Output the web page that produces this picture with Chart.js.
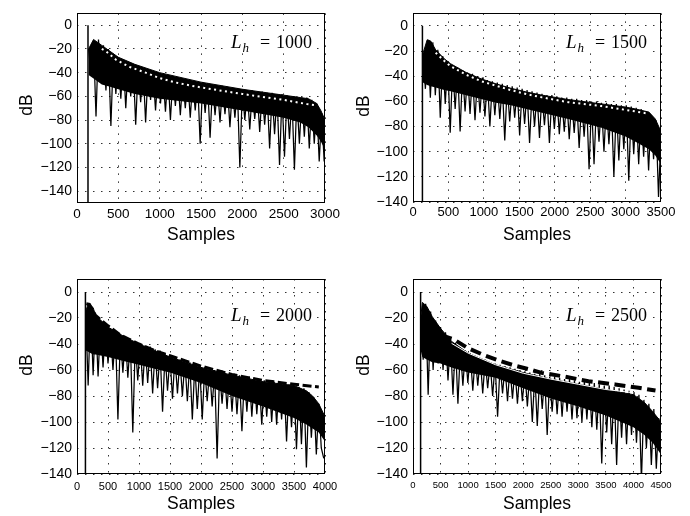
<!DOCTYPE html>
<html>
<head>
<meta charset="utf-8">
<script src="https://cdn.jsdelivr.net/npm/chart.js@4.4.1/dist/chart.umd.min.js"></script>
<style>
  html, body { margin: 0; padding: 0; background: #fff; }
  #wrap { position: relative; width: 690px; height: 516px; }
  canvas { position: absolute; }
</style>
</head>
<body>
<div id="wrap">
  <canvas id="c1" width="345" height="258" style="left:0;top:0"></canvas>
  <canvas id="c2" width="345" height="258" style="left:345px;top:0"></canvas>
  <canvas id="c3" width="345" height="258" style="left:0;top:258px"></canvas>
  <canvas id="c4" width="345" height="258" style="left:345px;top:258px"></canvas>
</div>
<script>
// tick labels
const yTicks = [-140, -120, -100, -80, -60, -40, -20, 0];
const p1XTicks = [0, 500, 1000, 1500, 2000, 2500, 3000];
const p2XTicks = [0, 500, 1000, 1500, 2000, 2500, 3000, 3500];
const p3XTicks = [0, 500, 1000, 1500, 2000, 2500, 3000, 3500, 4000];
const p4XTicks = [0, 500, 1000, 1500, 2000, 2500, 3000, 3500, 4000, 4500];

// ---- Lh = 1000 ----
const p1Impulse = 133;
const p1BandX = [140, 200, 300, 400, 500, 700, 1000, 1500, 2000, 2500, 2700, 2800, 2900, 2950, 3000];
const p1Top   = [-20, -12, -17, -22, -27, -33, -40, -48, -54, -59, -61, -62, -66, -72, -80];
const p1Core  = [-42, -45, -50, -52, -54, -58, -62, -66, -72, -78, -82, -86, -93, -98, -105];
const p1SigStart = 140, p1SigStep = 30;
const p1Signal = [-20,-40,-14,-77,-12,-48,-17,-55,-20,-85,
  -24,-58,-27,-62,-29,-70,-31,-60,-33,-84,
  -35,-65,-36,-82,-38,-63,-39,-72,-40,-66,
  -41,-73,-42,-80,-43,-68,-44,-76,-45,-70,
  -46,-78,-47,-72,-48,-100,-48,-74,-49,-95,
  -50,-76,-51,-82,-51,-75,-52,-86,-53,-78,
  -53,-120,-54,-80,-55,-88,-55,-79,-56,-90,
  -56,-84,-57,-104,-57,-92,-58,-118,-58,-111,
  -59,-96,-60,-122,-60,-100,-61,-94,-61,-104,
  -63,-100,-66,-115,-74,-115];
const p1EnvX = [300, 350, 470, 630, 830, 1000, 1200, 1380, 1570, 2000, 2500, 2780, 2900];
const p1EnvY = [-20, -22, -29, -35, -40, -44.6, -48.4, -51, -53.3, -58, -63, -66.5, -67.5];

// ---- Lh = 1500 ----
const p2Impulse = 133;
const p2BandX = [140, 200, 250, 320, 440, 530, 750, 960, 1170, 1380, 1600, 1820, 2190, 2660, 3000, 3140, 3330, 3420, 3500];
const p2Top   = [-22, -11, -12, -19, -26, -30, -37, -42, -46, -49.5, -52.5, -55, -58.5, -62, -64.5, -66, -68.5, -74, -84];
const p2Core  = [-45, -47, -48, -49, -51, -52, -55, -58, -61, -63, -66, -69, -74, -81, -88, -92, -98, -103, -110];
const p2SigStart = 140, p2SigStep = 35;
const p2Signal = [-22,-50,-11,-57,-13,-55,-19,-73,-24,-62,
  -28,-85,-31,-66,-33,-84,-35,-68,-37,-70,
  -38,-75,-40,-69,-41,-72,-43,-80,-44,-71,
  -45,-74,-46,-91,-47,-76,-48,-73,-49,-87,
  -50,-78,-51,-93,-52,-80,-53,-89,-54,-79,
  -55,-93,-55,-82,-56,-86,-57,-84,-57,-90,
  -58,-85,-58,-97,-59,-88,-59,-114,-60,-110,
  -60,-92,-61,-100,-61,-94,-62,-120,-62,-107,
  -63,-98,-63,-123,-64,-102,-65,-110,-66,-104,
  -68,-115,-71,-106,-75,-136,-86];
const p2EnvX = [320, 440, 530, 750, 960, 1170, 1380, 1600, 1820, 2190, 2660, 3140, 3300];
const p2EnvY = [-21.3, -27.7, -32, -38.8, -43.9, -47.5, -51, -54.2, -56.8, -60.6, -63.7, -68, -69.5];

// ---- Lh = 2000 ----
const p3Impulse = 136;
const p3BandX = [140, 180, 260, 300, 500, 750, 1000, 1250, 1500, 1750, 2000, 2500, 3000, 3500, 3700, 3800, 3900, 4000];
const p3Top   = [-15, -9, -12, -18, -27, -34, -40, -45, -50, -54, -58, -64, -69, -72, -76, -80, -86, -96];
const p3Core  = [-45, -46, -48, -48, -50, -53, -56, -59, -62, -66, -70, -80, -88, -97, -102, -105, -108, -115];
const p3SigStart = 140, p3SigStep = 40;
const p3Signal = [-14,-72,-10,-64,-18,-65,-22,-58,-25,-55,
  -28,-60,-30,-98,-33,-62,-34,-66,-36,-108,
  -38,-68,-40,-72,-41,-70,-42,-78,-44,-74,
  -45,-92,-47,-76,-49,-82,-50,-78,-52,-80,
  -53,-84,-54,-98,-56,-90,-57,-98,-58,-84,
  -59,-88,-60,-128,-61,-86,-61,-90,-62,-92,
  -63,-94,-64,-107,-65,-92,-65,-96,-66,-94,
  -67,-102,-68,-96,-68,-100,-69,-102,-69,-98,
  -70,-115,-71,-104,-72,-121,-73,-117,-74,-135,
  -77,-112,-81,-125,-86,-120,-128];
const p3EnvX = [150, 200, 300, 500, 700, 1000, 1250, 1500, 1750, 2000, 2500, 3000, 3500, 3900];
const p3EnvY = [-9, -9.5, -18, -26, -33, -40, -45, -49, -53, -57, -63.5, -68, -71, -73];

// ---- Lh = 2500 ----
const p4Impulse = 138;
const p4BandX = [140, 170, 250, 350, 500, 700, 1000, 1500, 2000, 2500, 3000, 3500, 4000, 4200, 4350, 4500];
const p4Top   = [-20, -8, -11, -19, -28, -38, -47, -56, -62, -67, -71, -75, -79, -85, -92, -100];
const p4Core  = [-45, -50, -52, -54, -55, -58, -62, -66, -74, -82, -88, -95, -104, -110, -116, -125];
const p4SigStart = 140, p4SigStep = 45;
const p4Signal = [-20,-52,-9,-79,-15,-60,-22,-55,-27,-60,
  -31,-68,-36,-79,-39,-86,-43,-72,-45,-70,
  -47,-76,-49,-72,-51,-78,-52,-74,-54,-80,
  -55,-96,-56,-78,-57,-84,-58,-82,-59,-86,
  -60,-84,-61,-88,-62,-100,-63,-103,-63,-90,
  -64,-110,-65,-92,-65,-94,-66,-96,-67,-92,
  -67,-98,-68,-97,-69,-100,-69,-98,-70,-104,
  -70,-106,-71,-132,-72,-108,-72,-117,-73,-133,
  -74,-112,-75,-117,-76,-110,-77,-116,-79,-145,
  -83,-120,-86,-133,-90,-136,-97];
const p4EnvX = [350, 564, 746, 990, 1262, 1535, 1837, 2117, 2335, 2699, 3183, 3669, 4093, 4400];
const p4EnvY = [-22, -34, -36.6, -43, -48.1, -52.5, -56.5, -59.6, -62.2, -64.7, -68.6, -71.1, -73.7, -75.8];
const p4WhiteX = [700, 1000, 1500, 2000, 2500, 3000, 3500, 4000];
const p4WhiteY = [-39.5, -47, -56, -62.5, -67, -71, -75, -77.5];

Chart.defaults.font.family = '"Liberation Sans", Arial, sans-serif';
Chart.defaults.color = '#000';

// box, rotated dB label and the L_h text
const panelDecor = {
  id: 'panelDecor',
  afterDraw(chart, args, o) {
    const ctx = chart.ctx, a = chart.chartArea;
    ctx.save();
    ctx.setLineDash([]);
    ctx.strokeStyle = '#000';
    ctx.lineWidth = 1;
    ctx.strokeRect(Math.round(a.left) + 0.5, Math.round(a.top) + 0.5,
      Math.round(a.right - a.left) - 1, Math.round(a.bottom - a.top) - 1);
    ctx.translate(o.dbX, o.dbY);
    ctx.rotate(-Math.PI / 2);
    ctx.font = '17.5px "Liberation Sans"';
    ctx.fillStyle = '#000';
    ctx.textAlign = 'center';
    ctx.textBaseline = 'middle';
    ctx.fillText('dB', 0, 0);
    ctx.restore();

    // L_h = N
    const end = o.lx, base = o.ly;
    ctx.save();
    ctx.fillStyle = '#fff';
    ctx.fillRect(end - 84, base - 16, 87, 21);
    ctx.fillStyle = '#000';
    ctx.textBaseline = 'alphabetic';
    ctx.font = 'italic 19px "Liberation Serif"';
    ctx.textAlign = 'left';
    ctx.fillText('L', end - 81, base);
    ctx.font = 'italic 13px "Liberation Serif"';
    ctx.fillText('h', end - 69.5, base + 3.5);
    ctx.font = '18px "Liberation Serif"';
    ctx.textAlign = 'center';
    ctx.fillText('=', end - 47, base);
    ctx.textAlign = 'right';
    ctx.fillText(o.label, end, base);
    ctx.restore();
  }
};

const panels = [
  { id: 'c1', label: '1000', xMax: 3000, yMin: -150, xTicks: p1XTicks, impulse: p1Impulse,
    bandX: p1BandX, top: p1Top, core: p1Core, sigStart: p1SigStart, sigStep: p1SigStep, signal: p1Signal,
    lines: [{ x: p1EnvX, y: p1EnvY, color: '#fff', width: 2, dash: [2, 3.5] }],
    yW: 77, padTop: 8, padRight: 20, xH: 55, xFont: 13.5, xPad: 3, titlePad: 12, dbX: 27.5, dbY: 105, lx: 312, ly: 48 },
  { id: 'c2', label: '1500', xMax: 3500, yMin: -140, xTicks: p2XTicks, impulse: p2Impulse,
    bandX: p2BandX, top: p2Top, core: p2Core, sigStart: p2SigStart, sigStep: p2SigStep, signal: p2Signal,
    lines: [{ x: p2EnvX, y: p2EnvY, color: '#fff', width: 2, dash: [2, 3.5] }],
    yW: 68, padTop: 8, padRight: 29, xH: 56, xFont: 13, xPad: 3, titlePad: 12, dbX: 19, dbY: 106, lx: 302, ly: 48 },
  { id: 'c3', label: '2000', xMax: 4000, yMin: -140, xTicks: p3XTicks, impulse: p3Impulse,
    bandX: p3BandX, top: p3Top, core: p3Core, sigStart: p3SigStart, sigStep: p3SigStep, signal: p3Signal,
    lines: [{ x: p3EnvX, y: p3EnvY, color: '#000', width: 3, dash: [9, 3.5] }],
    yW: 77, padTop: 21, padRight: 20, xH: 42, xFont: 11, xPad: 6, titlePad: 1, dbX: 27.5, dbY: 107, lx: 312, ly: 63 },
  { id: 'c4', label: '2500', xMax: 4500, yMin: -140, xTicks: p4XTicks, impulse: p4Impulse,
    bandX: p4BandX, top: p4Top, core: p4Core, sigStart: p4SigStart, sigStep: p4SigStep, signal: p4Signal,
    lines: [{ x: p4EnvX, y: p4EnvY, color: '#000', width: 4, dash: [11, 5.5] },
            { x: p4WhiteX, y: p4WhiteY, color: '#fff', width: 1, dash: [] }],
    yW: 68, padTop: 21, padRight: 29, xH: 42, xFont: 9.5, xPad: 6, titlePad: 1, dbX: 19, dbY: 107, lx: 302, ly: 63 }
];

const pts = (xs, ys) => xs.map((x, i) => ({ x: x, y: ys[i] }));

function makeChart(p) {
  const datasets = [];
  p.lines.forEach(l => datasets.push({
    data: pts(l.x, l.y), borderColor: l.color, borderWidth: l.width, borderDash: l.dash
  }));
  datasets.push({
    data: p.signal.map((y, i) => ({ x: p.sigStart + i * p.sigStep, y: y })),
    borderColor: '#000', borderWidth: 1.25
  });
  datasets.push({
    data: [{ x: p.impulse, y: -200 }, { x: p.impulse, y: 0 }],
    borderColor: '#000', borderWidth: 1.5
  });
  datasets.push({
    data: pts(p.bandX, p.top), borderColor: '#000', borderWidth: 1,
    fill: '+1', backgroundColor: '#000'
  });
  datasets.push({
    data: pts(p.bandX, p.core), borderColor: '#000', borderWidth: 0, fill: false
  });

  const grid = { color: 'rgba(0,0,0,0.8)', lineWidth: 1, drawTicks: false };
  const border = { display: false, dash: [1.5, 6.5] };

  return new Chart(document.getElementById(p.id), {
    type: 'line',
    data: { datasets: datasets },
    plugins: [panelDecor],
    options: {
      responsive: false,
      animation: false,
      devicePixelRatio: 1,
      layout: { padding: { top: p.padTop, right: p.padRight, left: 0, bottom: 0 } },
      elements: { point: { radius: 0 }, line: { tension: 0, borderCapStyle: 'butt' } },
      plugins: {
        legend: { display: false },
        tooltip: { enabled: false },
        panelDecor: { label: p.label, dbX: p.dbX, dbY: p.dbY, lx: p.lx, ly: p.ly }
      },
      scales: {
        x: {
          type: 'linear', min: 0, max: p.xMax,
          afterBuildTicks: s => { s.ticks = p.xTicks.map(v => ({ value: v })); },
          ticks: { autoSkip: false, maxRotation: 0, padding: p.xPad, font: { size: p.xFont },
                   callback: v => String(v) },
          grid: grid, border: border,
          title: { display: true, text: 'Samples', font: { size: 17.5 }, padding: { top: 0, bottom: p.titlePad } },
          afterFit: s => { s.height = p.xH; }
        },
        y: {
          min: p.yMin, max: 10,
          afterBuildTicks: s => { s.ticks = yTicks.map(v => ({ value: v })); },
          ticks: {
            padding: 5, font: { size: 14 },
            callback: v => v < 0 ? '\u2212' + Math.abs(v) : String(v)
          },
          grid: grid, border: border,
          afterFit: s => { s.width = p.yW; }
        }
      }
    }
  });
}

panels.forEach(makeChart);
</script>
</body>
</html>
